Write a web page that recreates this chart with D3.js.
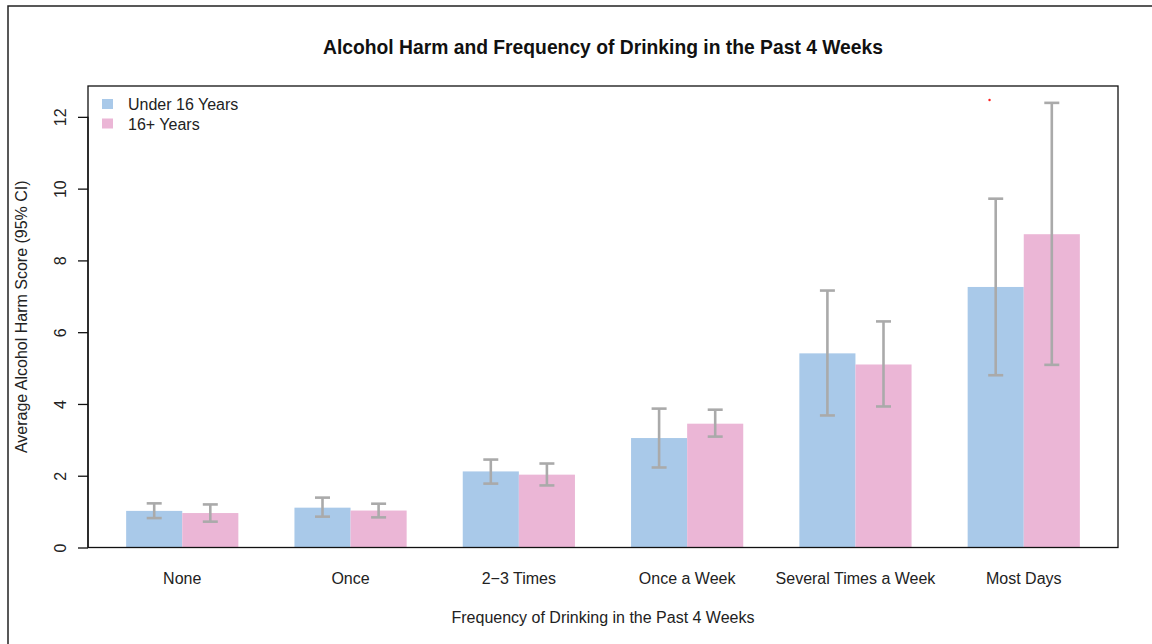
<!DOCTYPE html>
<html><head><meta charset="utf-8">
<script src="https://cdn.jsdelivr.net/npm/d3@7"></script>
<style>body{margin:0;background:#fff}svg{display:block;font-family:"Liberation Sans",Arial,Helvetica,sans-serif}</style>
</head><body>
<svg id="c" width="1152" height="644"></svg>
<script>
const categories = ["None","Once","2\u22123 Times","Once a Week","Several Times a Week","Most Days"];
const seriesNames = ["Under 16 Years","16+ Years"];
const under16Mean = [1.02,1.11,2.12,3.05,5.41,7.26];
const under16Lo   = [0.82,0.86,1.78,2.23,3.68,4.80];
const under16Hi   = [1.23,1.39,2.45,3.87,7.16,9.72];
const over16Mean  = [0.96,1.03,2.03,3.45,5.10,8.73];
const over16Lo    = [0.72,0.84,1.73,3.09,3.93,5.09];
const over16Hi    = [1.20,1.22,2.34,3.84,6.30,12.39];
const yTicks = [0,2,4,6,8,10,12];
const redPoint = {x: 16.39, y: 12.47};
const colors = ["#a9c9e9","#ebb6d6"];

const svg = d3.select("#c");
const L=88,R=1118,T=86,B=547.5;
const x = d3.scaleLinear().domain([0.32,18.68]).range([L,R]);
const y = d3.scaleLinear().domain([0,12.86]).range([B,T]);

svg.append("rect").attr("x",8).attr("y",6).attr("width",1160).attr("height",660)
  .attr("fill","none").attr("stroke","#222").attr("stroke-width",1.5);

const series = [
  {mean:under16Mean, lo:under16Lo, hi:under16Hi},
  {mean:over16Mean, lo:over16Lo, hi:over16Hi}
];
const g = svg.append("g");
categories.forEach((c,i)=>{
  series.forEach((s,j)=>{
    const x0 = 1 + 3*i + j;
    g.append("rect").attr("x",x(x0)).attr("width",x(x0+1)-x(x0))
      .attr("y",y(s.mean[i])).attr("height",y(0)-y(s.mean[i])).attr("fill",colors[j]);
  });
});
const eb = svg.append("g").attr("stroke","#aaaaaa").attr("stroke-width",2.6).attr("fill","none");
categories.forEach((c,i)=>{
  series.forEach((s,j)=>{
    const cx = x(1 + 3*i + j + 0.5);
    eb.append("line").attr("x1",cx).attr("x2",cx).attr("y1",y(s.lo[i])).attr("y2",y(s.hi[i]));
    [s.lo[i],s.hi[i]].forEach(v=>{
      eb.append("line").attr("x1",cx-7.5).attr("x2",cx+7.5).attr("y1",y(v)).attr("y2",y(v));
    });
  });
});
svg.append("circle").attr("cx",x(redPoint.x)).attr("cy",y(redPoint.y)).attr("r",1.2).attr("fill","#ff2020");

svg.append("rect").attr("x",L).attr("y",T).attr("width",R-L).attr("height",B-T)
  .attr("fill","none").attr("stroke","#111").attr("stroke-width",1.3);

const ya = svg.append("g").attr("transform",`translate(${L},0)`)
  .call(d3.axisLeft(y).tickValues(yTicks).tickSize(10).tickPadding(0).tickFormat(d3.format("d")));
ya.select(".domain").attr("stroke","#111").attr("stroke-width",1.3).attr("d",`M0,${y(0)}V${y(12)}`);
ya.selectAll(".tick line").attr("stroke","#111").attr("stroke-width",1.3);
ya.selectAll(".tick text").attr("font-size",16).attr("fill","#222")
  .attr("transform",`translate(-28,0) rotate(-90)`)
  .attr("x",0).attr("dy","0.35em").attr("text-anchor","middle");

const xb = d3.scaleBand().domain(categories).range([x(1),x(19)]).paddingInner(0).paddingOuter(0);
const xa = svg.append("g").attr("transform",`translate(0,${B})`)
  .call(d3.axisBottom(xb).tickSize(0).tickPadding(25));
xa.select(".domain").remove();
xa.selectAll(".tick").attr("transform",(d,i)=>`translate(${x(2+3*i)},0)`);
xa.selectAll(".tick text").attr("font-size",16).attr("fill","#222");

svg.append("text").attr("x",(L+R)/2).attr("y",54).attr("text-anchor","middle")
  .attr("font-size",19.3).attr("font-weight","bold").attr("fill","#111")
  .text("Alcohol Harm and Frequency of Drinking in the Past 4 Weeks");
svg.append("text").attr("x",(L+R)/2).attr("y",623).attr("text-anchor","middle")
  .attr("font-size",16).attr("fill","#222").text("Frequency of Drinking in the Past 4 Weeks");
svg.append("text").attr("transform",`translate(27,${(T+B)/2}) rotate(-90)`).attr("text-anchor","middle")
  .attr("font-size",16).attr("fill","#222").text("Average Alcohol Harm Score (95% CI)");

const lg = svg.append("g");
seriesNames.forEach((n,i)=>{
  lg.append("rect").attr("x",102).attr("y",99+i*19.5).attr("width",11).attr("height",10).attr("fill",colors[i]);
  lg.append("text").attr("x",128).attr("y",110+i*19.5).attr("font-size",16).attr("fill","#222").text(n);
});
</script>
</body></html>
